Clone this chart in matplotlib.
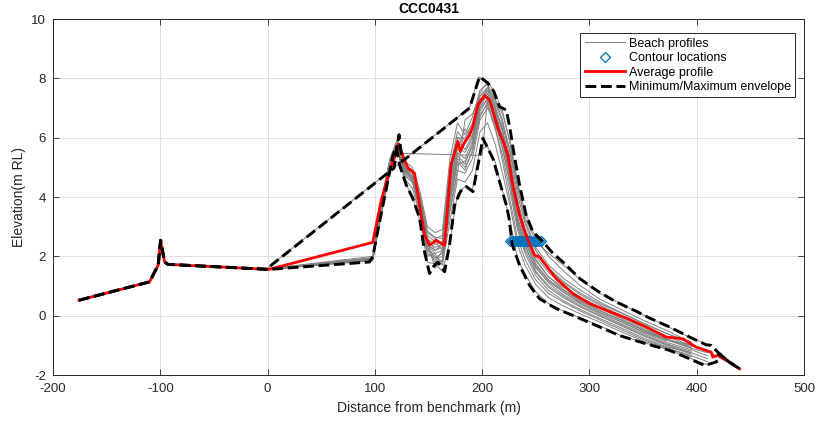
import numpy as np
import matplotlib
matplotlib.use("Agg")
import matplotlib.pyplot as plt
from matplotlib.lines import Line2D

plt.rcParams['font.family'] = ['Liberation Sans', 'DejaVu Sans']
plt.rcParams['axes.unicode_minus'] = False

nan = np.nan

# common chainage grid for the surveyed profiles (m)
xg = [0, 98, 106, 114, 121, 128, 135, 142, 149, 156, 163, 170, 177, 184, 191, 198, 205,
      212, 219, 226, 233, 240, 250, 262, 276, 292, 310, 330, 350, 372, 395, 410, 420, 440]

profiles = [
    [1.56, 1.85, 3.4, 4.8, 5.6, 4.5, 4.0, 3.2, 1.8, 1.75, 1.5, 2.5, 4.1, 4.35, 4.25, 5.6, 5.7, 5.2, 4.2, 3.2, 1.9, 1.4, 0.8, 0.4, 0.15, -0.08, -0.35, -0.68, -0.9, -1.13, -1.45, -1.66, -1.57, nan],
    [1.56, 1.88, 3.5, 4.9, 5.65, 4.6, 4.3, 3.4, 2.0, 2.1, 1.7, 3.2, 4.6, 4.5, 4.9, 6.2, 6.5, 5.8, 4.8, 3.7, 2.4, 1.7, 1.05, 0.6, 0.32, 0.05, -0.22, -0.55, -0.85, -1.1, -1.38, nan, nan, nan],
    [1.57, 1.9, 3.6, 5.0, 5.7, 4.8, 4.6, 3.6, 2.3, 1.8, 2.2, 4.0, 5.3, 5.0, 5.5, 6.8, 7.1, 6.3, 5.4, 4.2, 2.9, 2.1, 1.35, 0.85, 0.5, 0.2, -0.1, -0.42, -0.75, -1.05, -1.25, nan, nan, nan],
    [1.57, 1.92, 3.7, 5.1, 5.8, 5.0, 4.8, 3.8, 2.6, 2.4, 2.5, 4.6, 5.9, 5.6, 6.1, 7.2, 7.4, 6.7, 5.9, 4.7, 3.3, 2.5, 1.65, 1.1, 0.7, 0.38, 0.05, -0.28, -0.6, -0.95, -1.2, nan, nan, nan],
    [1.58, 1.95, 3.8, 5.2, 5.85, 5.1, 4.9, 4.0, 2.8, 2.6, 2.7, 5.0, 6.2, 5.9, 6.4, 7.4, 7.6, 7.0, 6.3, 5.1, 3.7, 2.8, 1.9, 1.3, 0.88, 0.5, 0.18, -0.15, -0.48, -0.82, -1.1, -1.25, nan, nan],
    [1.58, 2.0, 3.9, 5.3, 5.95, 5.2, 5.0, 4.2, 3.0, 2.8, 2.9, 5.3, 6.5, 6.1, 6.7, 7.6, 7.8, 7.3, 6.6, 5.5, 4.1, 3.1, 2.2, 1.55, 1.1, 0.7, 0.35, 0.0, -0.35, -0.7, -1.0, nan, nan, nan],
    [1.58, 1.9, 3.5, 4.95, 5.7, 4.9, 4.7, 3.7, 2.4, 2.2, 2.3, 4.2, 5.5, 5.3, 5.9, 7.0, 7.5, 6.9, 6.4, 5.6, 4.3, 3.3, 2.5, 2.1, 1.7, 1.2, 0.75, 0.38, 0.03, -0.35, -0.76, -0.97, nan, nan],
    [1.56, 1.87, 3.5, 4.9, 5.6, 4.7, 4.5, 3.5, 2.1, 1.9, 2.0, 3.6, 4.9, 4.8, 5.3, 6.6, 7.0, 6.5, 5.6, 4.5, 3.1, 2.3, 1.6, 1.15, 0.8, 0.45, 0.1, -0.2, -0.55, -0.8, -1.0, -1.2, -1.38, -1.79],
    [1.57, 1.9, 3.6, 5.0, 5.75, 4.9, 4.6, 3.7, 2.5, 1.6, 1.9, 3.9, 5.2, 4.9, 5.6, 6.9, 7.3, 6.6, 5.7, 4.4, 3.0, 2.2, 1.45, 0.95, 0.6, 0.28, -0.02, -0.35, -0.68, -1.0, -1.3, nan, nan, nan],
    [1.56, 1.9, 3.6, 5.05, 5.8, 5.0, 4.7, 3.9, 2.6, 2.2, 2.4, 4.8, 6.0, 5.8, 6.3, 7.3, 7.5, 6.9, 6.0, 4.9, 3.5, 2.6, 1.75, 1.2, 0.78, 0.42, 0.1, -0.22, -0.55, -0.9, -1.15, -1.35, nan, nan],
    [1.57, 1.93, 3.7, 5.1, 5.85, 5.05, 4.85, 3.95, 2.7, 2.5, 2.2, 4.4, 5.6, 6.3, 6.0, 7.2, 7.7, 7.1, 6.2, 5.0, 3.6, 2.7, 1.85, 1.3, 0.95, 0.6, 0.25, -0.1, -0.45, -0.8, -1.08, nan, nan, nan],
    [1.56, 1.9, 3.55, 5.0, 5.7, 4.85, 4.55, 3.7, 2.3, 2.0, 1.8, 3.5, 4.8, 6.6, 6.8, 7.4, 7.7, 7.2, 6.5, 5.3, 3.9, 2.9, 2.0, 1.45, 1.0, 0.62, 0.28, -0.05, -0.4, -0.78, -1.05, nan, nan, nan],
    [1.57, 1.9, 3.6, 5.0, 5.7, 4.9, 4.65, 3.75, 2.4, 2.1, 2.2, 4.1, 5.4, 5.1, 5.8, 7.1, 7.6, 7.3, 6.8, 5.9, 4.5, 3.5, 2.6, 2.0, 1.5, 1.0, 0.55, 0.2, -0.15, -0.5, -0.9, nan, nan, nan],
    [1.56, 1.88, 3.5, 4.95, 5.65, 4.75, 4.5, 3.55, 2.2, 1.95, 2.1, 3.8, 5.1, 5.2, 5.7, 6.7, 7.2, 6.4, 5.2, 3.9, 2.6, 1.9, 1.2, 0.75, 0.45, 0.15, -0.15, -0.48, -0.8, -1.08, -1.35, -1.55, nan, nan],
    [1.58, 1.95, 3.75, 5.15, 5.9, 5.1, 4.9, 4.05, 2.85, 2.65, 2.6, 4.9, 6.0, 6.0, 6.5, 7.5, 7.9, 7.5, 6.9, 5.8, 4.4, 3.2, 2.3, 1.7, 1.25, 0.85, 0.45, 0.1, -0.25, -0.6, -0.9, nan, nan, nan],
    [1.57, 1.9, 3.6, 5.0, 5.75, 4.95, 4.7, 3.8, 2.5, 2.3, 2.4, 4.5, 5.7, 5.5, 6.0, 7.0, 7.3, 6.8, 6.0, 4.8, 3.2, 2.4, 1.5, 1.0, 0.65, 0.32, 0.0, -0.32, -0.65, -0.98, -1.25, -1.45, nan, nan],
]

# profiles with survey gaps (own chainages)
gap1_x = [0, 3, 188, 197, 205, 212, 219, 226, 233, 240, 250, 262, 276, 292, 310, 330, 350, 372, 395]
gap1_y = [1.58, 1.7, 7.0, 8.05, 7.8, 7.0, 6.2, 5.0, 3.6, 2.9, 2.2, 1.6, 1.15, 0.75, 0.4, 0.08, -0.25, -0.6, -0.95]
gap2_x = [0, 98, 106, 114, 121, 126, 200, 205, 212, 219, 226, 233, 240, 250, 262, 276, 292, 310, 330, 350, 372]
gap2_y = [1.56, 1.9, 3.5, 4.9, 5.7, 5.47, 5.4, 7.3, 6.8, 5.9, 4.6, 3.3, 2.5, 1.7, 1.2, 0.85, 0.5, 0.15, -0.15, -0.5, -0.85]

# seaward section common to all surveys
land_x = [-175.8, -110, -102, -99.7, -96, -93, 1.2]
land_y = [0.52, 1.14, 1.7, 2.54, 1.81, 1.73, 1.56]

avg_x = [-175.8, -110, -102, -99.7, -96, -93, 1.2, 98, 106, 114, 117, 122.4, 127, 131, 137, 141.7,
         146.3, 151, 154, 157, 160.3, 165, 171, 177.4, 179.6, 183, 188.3, 191.4, 196, 202.2, 207,
         214.6, 220.9, 224, 228.6, 234.9, 241, 248.8, 253.5, 269, 284.6, 300, 315.7, 334.3, 353,
         371.6, 387, 399.5, 413.5, 415, 419.6, 430.6, 440]
avg_y = [0.52, 1.14, 1.7, 2.54, 1.81, 1.73, 1.56, 2.47, 3.9, 4.9, 5.19, 5.78, 5.3, 4.97, 4.8, 3.73,
         2.71, 2.38, 2.45, 2.55, 2.47, 2.38, 5.08, 5.87, 5.53, 5.8, 6.09, 6.37, 7.1, 7.42, 7.27,
         6.32, 5.75, 5.42, 4.4, 3.39, 2.71, 2.04, 1.98, 1.25, 0.74, 0.41, 0.18, -0.08, -0.38,
         -0.72, -0.78, -1.06, -1.23, -1.4, -1.34, -1.57, -1.79]

max_x = [-175.8, -110, -102, -99.7, -96, -93, 1.2, 3.4, 118, 122.5, 125.5, 188.3, 197.6, 205.3,
         211, 216, 222.5, 226, 229, 234.9, 241, 247.3, 256.6, 266, 275.3, 291, 306.3, 325, 343.6,
         356, 374.6, 393.3, 408.6, 413.5, 421, 430.6, 440]
max_y = [0.52, 1.14, 1.7, 2.54, 1.81, 1.73, 1.56, 1.7, 4.98, 6.1, 5.2, 7.0, 8.06, 7.84,
         7.55, 7.05, 6.93, 6.3, 5.6, 4.4, 3.39, 2.83, 2.49, 2.1, 1.81, 1.25, 0.86, 0.46, 0.15,
         -0.08, -0.38, -0.72, -0.98, -1.0, -1.28, -1.57, -1.79]

min_x = [-175.8, -110, -102, -99.7, -96, -93, 1.2, 95, 98.2, 101.3, 107.6, 117, 120, 123, 129.3,
         135.4, 141.7, 146.3, 151, 154.5, 158.7, 165, 169.6, 174.3, 180, 185.2, 191.4, 197.6,
         200.7, 210, 216.2, 222.5, 225, 228, 234.9, 244.2, 253.5, 269, 287.7, 306.3, 328, 353,
         374.6, 393.3, 407.3, 418.2, 421, 430.6, 440]
min_y = [0.52, 1.14, 1.7, 2.54, 1.81, 1.73, 1.56, 1.81, 2.0, 2.6, 3.73, 5.42, 5.7, 5.08, 4.4,
         3.95, 3.28, 2.15, 1.42, 1.65, 1.81, 1.48, 2.38, 3.73, 4.2, 4.35, 4.18, 5.36,
         5.98, 5.3, 4.52, 3.73, 3.3, 2.4, 1.7, 1.02, 0.57, 0.24, -0.04, -0.33, -0.67, -0.95,
         -1.17, -1.45, -1.68, -1.56, -1.28, -1.57, -1.79]

contour_x = [226, 228, 229, 231, 232, 233, 234, 235, 236, 237, 238, 239, 240, 241, 242, 243,
             244, 245, 246, 248, 249, 250, 251, 253, 255]
contour_level = 2.5

gray = (0.5, 0.5, 0.5)
blue = (0.0, 0.447, 0.741)
dark = (0.15, 0.15, 0.15)

fig = plt.figure(figsize=(8.2, 4.23), dpi=100)
ax = fig.add_axes([53/820, 1-375/423, 751/820, 356/423])

for p in profiles:
    ax.plot(xg, p, color=gray, lw=0.7)
ax.plot(gap1_x, gap1_y, color=gray, lw=0.7)
ax.plot(gap2_x, gap2_y, color=gray, lw=0.7)
ax.plot(land_x, land_y, color=gray, lw=0.7)

ax.plot(contour_x, [contour_level]*len(contour_x), linestyle='none', marker='D',
        markersize=5.5, markerfacecolor='none', markeredgecolor=blue, markeredgewidth=0.9)

ax.plot(avg_x, avg_y, color='red', lw=2.0)
ax.plot(max_x, max_y, color='black', lw=2.1, linestyle='--')
ax.plot(min_x, min_y, color='black', lw=2.1, linestyle='--')

ax.set_xlim(-200, 500)
ax.set_ylim(-2, 10)
ax.set_xticks(range(-200, 501, 100))
ax.set_yticks(range(-2, 11, 2))
ax.grid(True, color=(0.88, 0.88, 0.88), lw=0.7)
ax.set_axisbelow(True)
ax.tick_params(direction='in', top=True, right=True, labelsize=9.5, colors=dark,
               length=4, width=0.6)
ax.tick_params(axis='x', pad=6)
ax.tick_params(axis='y', pad=5)
for s in ax.spines.values():
    s.set_color(dark)
    s.set_linewidth(0.7)

ax.set_title('CCC0431', fontsize=10, fontweight='bold', pad=4)
ax.set_xlabel('Distance from benchmark (m)', fontsize=10, color=dark, labelpad=4)
ax.set_ylabel('Elevation(m RL)', fontsize=10, color=dark, labelpad=4)

handles = [
    Line2D([], [], color=gray, lw=0.7),
    Line2D([], [], linestyle='none', marker='D', markersize=5.5, markerfacecolor='none',
           markeredgecolor=blue, markeredgewidth=0.9),
    Line2D([], [], color='red', lw=2.0),
    Line2D([], [], color='black', lw=2.1, linestyle='--'),
]
labels = ['Beach profiles', 'Contour locations', 'Average profile', 'Minimum/Maximum envelope']
leg = ax.legend(handles, labels, loc='upper right', bbox_to_anchor=(0.988, 0.96), fontsize=9,
                handlelength=3.2, labelspacing=0.2, borderpad=0.35, handletextpad=0.3,
                borderaxespad=0, fancybox=False, framealpha=1, edgecolor=dark)
leg.get_frame().set_linewidth(0.7)

fig.savefig('out.png', dpi=100)
